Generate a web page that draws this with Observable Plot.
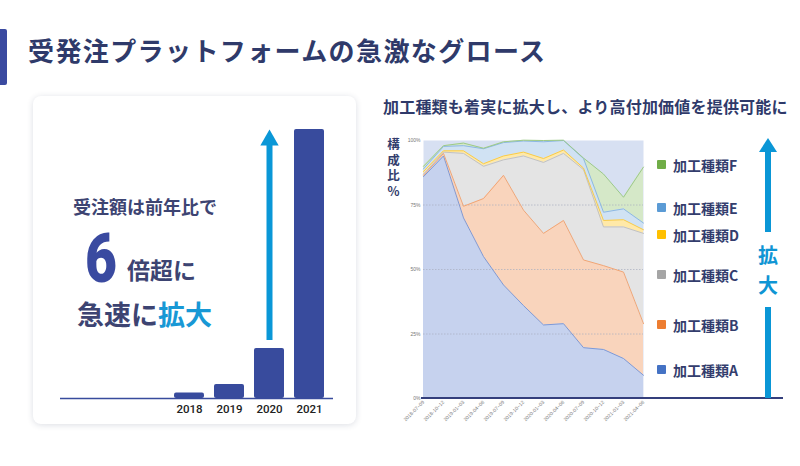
<!DOCTYPE html>
<html><head><meta charset="utf-8">
<script src="https://cdn.jsdelivr.net/npm/d3@7"></script>
<script src="https://cdn.jsdelivr.net/npm/@observablehq/plot@0.6"></script>
<style>
body{margin:0;background:#fff;}
#page{position:relative;width:800px;height:466px;overflow:hidden;font-family:"Noto Sans CJK JP","Noto Sans",sans-serif;color:#343d6c;background:#fff;}
.a{position:absolute;white-space:nowrap;}
.b{font-weight:700;}
#ylab{position:absolute;left:386px;top:138px;writing-mode:vertical-rl;text-orientation:upright;font-size:12.5px;line-height:14px;letter-spacing:3px;font-weight:700;color:#333d6d;white-space:nowrap;}
#card{position:absolute;left:33px;top:96px;width:323px;height:328px;border-radius:8px;background:#fff;box-shadow:0 1px 6px rgba(40,50,90,0.16);}
.leg{position:absolute;left:657px;width:120px;height:16px;font-size:14px;font-weight:700;line-height:16px;color:#333d6d;white-space:nowrap;}
.leg i{position:absolute;left:0;top:3px;width:9px;height:9px;border-radius:1px;}
.leg span{position:absolute;left:16px;top:0;white-space:nowrap;}
</style></head><body><div id="page">
<div class="a" style="left:0;top:29px;width:7px;height:56px;background:#3a4aa0;border-radius:0 2px 2px 0;"></div>
<div class="a b" style="left:28px;top:37px;font-size:26px;line-height:26px;letter-spacing:1.4px;color:#2f3a6a;">受発注プラットフォームの急激なグロース</div>
<div id="card"></div>
<div class="a b" style="left:73px;top:197px;font-size:18px;line-height:18px;color:#3d4472;">受注額は前年比で</div>
<div class="a b" style="left:85px;top:224px;font-size:69px;line-height:69px;font-family:Roboto,'DejaVu Sans',sans-serif;font-weight:900;color:#3a4aa0;transform:scaleX(0.8);transform-origin:left top;">6</div>
<div class="a b" style="left:127px;top:258px;font-size:23px;line-height:23px;color:#3d4472;">倍超に</div>
<div class="a b" style="left:77px;top:300px;font-size:27px;line-height:27px;color:#3d4472;">急速に<span style="color:#1898d5;">拡大</span></div>
<div id="bars" class="a" style="left:33px;top:96px;"></div>
<div class="a b" style="left:383px;top:98px;font-size:16px;line-height:16px;letter-spacing:0.2px;color:#2f3a6a;">加工種類も着実に拡大し、より高付加価値を提供可能に</div>
<div id="ylab">構成比%</div>
<div id="area" class="a" style="left:380px;top:130px;"></div>
<div class="a" style="left:421px;top:397px;width:362px;height:2px;background:#343f7c;"></div>
<div class="a" style="left:758.5px;top:138px;width:0;height:0;border-left:9.5px solid transparent;border-right:9.5px solid transparent;border-bottom:14px solid #0a96d6;"></div>
<div class="a" style="left:765px;top:151px;width:6px;height:81px;background:#0a96d6;"></div>
<div class="a b" style="left:758px;top:245px;width:20px;text-align:center;font-size:20px;line-height:20px;color:#0f95d4;">拡</div>
<div class="a b" style="left:758px;top:275px;width:20px;text-align:center;font-size:20px;line-height:20px;color:#0f95d4;">大</div>
<div class="a" style="left:765px;top:307px;width:6px;height:91px;background:#0a96d6;"></div>
</div>
<script>
// ---- Left chart data ----
const slots = ["2015", "2016", "2017", "2018", "2019", "2020", "2021"];
const years = ["2018", "2019", "2020", "2021"];
const orderValues = [5.5, 14, 50, 269];

// ---- Right chart data ----
const quarters = ["2018-07~09", "2018-10~12", "2019-01~03", "2019-04~06", "2019-07~09", "2019-10~12",
  "2020-01~03", "2020-04~06", "2020-07~09", "2020-10~12", "2021-01~03", "2021-04~06"];
const types = ["加工種類A", "加工種類B", "加工種類C", "加工種類D", "加工種類E", "加工種類F"];
const shareA = [86, 94, 70, 55, 44, 36, 28.5, 29, 19.7, 19, 15.5, 9];
const shareB = [0.5, 1, 4.5, 22.5, 42.5, 37, 35.5, 40, 34, 32.5, 33.5, 20];
const shareC = [0.5, 0.5, 20.5, 12.5, 6, 21, 27.5, 26, 35, 15, 17.5, 35];
const shareD = [1, 0.5, 1, 1, 1.5, 1.5, 1.5, 1.3, 0.6, 2.5, 2.8, 1.4];
const shareE = [1, 1.7, 2, 5.8, 5.2, 4.3, 6.5, 3.7, 3.7, 3.2, 4.2, 2.6];
const shareF = [1, 0.3, 1, 0.2, 0.3, 0.3, 0.5, 0.1, 0.2, 14.8, 4.5, 21.7];
const yTicks = [0, 25, 50, 75, 100];

const areaFills = ["#c6d2ee", "#f9d4bc", "#e4e4e4", "#ffe9a8", "#d0e2f3", "#d5e8c8"];
const lineStrokes = ["#7e99d6", "#f1a676", "#c2c2c2", "#f7cb4a", "#8cb8e3", "#9cc98a"];
const legendColors = ["#4472c4", "#ed7d31", "#a5a5a5", "#ffc000", "#5b9bd5", "#70ad47"];

// ---- Left bar chart ----
const orderData = years.map((y, i) => ({year: y, value: orderValues[i]}));
const arrowBase = orderValues[2] + 8;
const arrowTip = orderValues[3];
const bars = Plot.plot({
  width: 323, height: 328,
  marginLeft: 27, marginRight: 23, marginTop: 33, marginBottom: 26,
  style: {background: "transparent", fontFamily: "Roboto, sans-serif"},
  x: {type: "band", domain: slots, range: [14.35, 296.45], paddingInner: 0.26, paddingOuter: 0.13},
  y: {domain: [0, 269], axis: null},
  marks: [
    Plot.barY(orderData, {x: "year", y: "value", fill: "#384b9d", rx: 2}),
    Plot.ruleY([0], {stroke: "#384b9d", strokeWidth: 1.5}),
    Plot.ruleX(["2020"], {y1: arrowBase, y2: arrowTip - 15, stroke: "#0a97d7", strokeWidth: 6}),
    Plot.dot(["2020"], {x: d => d, y: () => arrowTip - 10.6, symbol: "triangle", r: 6.8, fill: "#0a97d7", stroke: null}),
    Plot.axisX({ticks: years, tickSize: 0, tickPadding: 6, fontSize: 11.5, fontWeight: 500, fill: "#222", label: null})
  ]
});
document.getElementById("bars").appendChild(bars);

// ---- Right stacked area chart ----
const shares = [shareA, shareB, shareC, shareD, shareE, shareF];
const rows = quarters.flatMap((q, i) => types.map((t, j) => ({q, type: t, v: shares[j][i], j})));
const area = Plot.plot({
  width: 280, height: 300,
  marginLeft: 43, marginRight: 17, marginTop: 10, marginBottom: 32,
  style: {background: "transparent", fontFamily: "'Liberation Sans','DejaVu Sans',sans-serif"},
  x: {type: "point", domain: quarters, padding: 0},
  y: {domain: [0, 100]},
  color: {type: "identity"},
  marks: [
    Plot.frame({fill: "#d7e0f2", stroke: null}),
    Plot.areaY(rows, {x: "q", y: "v", z: "type", fill: d => areaFills[d.j]}),
    Plot.gridY([25, 50, 75], {stroke: "#a8aebf", strokeDasharray: "1.5,1.5", strokeOpacity: 0.7}),
    Plot.lineY(rows, Plot.stackY2({x: "q", y: "v", z: "type", stroke: d => lineStrokes[d.j], strokeWidth: 1})),
    Plot.axisY({ticks: yTicks, tickFormat: d => d + "%", tickSize: 0, tickPadding: 3, fontSize: 5, fill: "#777", label: null}),
    Plot.axisX({tickRotate: -45, tickSize: 0, tickPadding: 3, fontSize: 5, fill: "#777", label: null})
  ]
});
document.getElementById("area").appendChild(area);

// ---- Legend ----
const legendY = [370, 325, 275, 235, 208, 165];
types.forEach((t, j) => {
  const d = document.createElement("div");
  d.className = "leg";
  d.style.top = (legendY[j] - 8) + "px";
  d.innerHTML = `<i style="background:${legendColors[j]}"></i><span>${t}</span>`;
  document.getElementById("page").appendChild(d);
});
</script>
</body></html>
